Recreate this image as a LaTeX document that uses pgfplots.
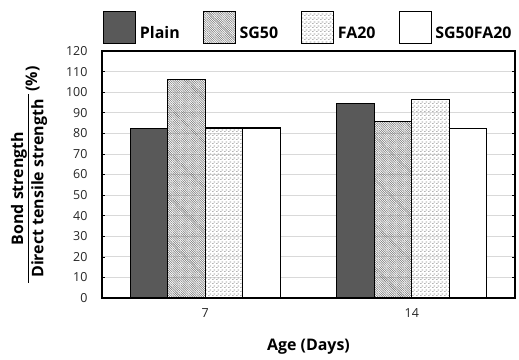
\documentclass[border=0pt]{standalone}
\usepackage{pgfplots}
\pgfplotsset{compat=1.18}
\usepackage{fontspec}
\setmainfont{Open Sans}
\usetikzlibrary{patterns,patterns.meta}
\definecolor{plaingray}{HTML}{595959}
\definecolor{gridgray}{HTML}{D9D9D9}
\pgfdeclarepattern{name=fadash, type=uncolored, bottom left={\pgfpoint{0bp}{0bp}}, top right={\pgfpoint{4bp}{4bp}}, tile size={\pgfpoint{4bp}{4bp}},
 code={\pgfpathrectangle{\pgfpoint{0bp}{0bp}}{\pgfpoint{2bp}{0.9bp}}\pgfpathrectangle{\pgfpoint{2bp}{2bp}}{\pgfpoint{2bp}{0.9bp}}\pgfusepath{fill}}}
\pgfplotstableread{
x Plain SG50 FA20 SGFA
1 82.5 106.2 82.6 82.6
2 94.3 85.9 96.6 82.2
}\datatable
\begin{document}
\begin{tikzpicture}
\useasboundingbox (-102bp,-62bp) rectangle (417bp,298bp);
\begin{axis}[
  at={(0,0)}, anchor=south west,
  scale only axis, width=413bp, height=247bp,
  ybar=0pt, bar width=37.5bp,
  xmin=0.5, xmax=2.5, ymin=0, ymax=120,
  xtick={1,2}, xticklabels={7,14},
  ytick={0,10,...,120},
  major x tick style={draw=none},
  y tick style={black, line width=0.6pt},
  major tick length=3bp,
  tick align=inside,
  ymajorgrids, grid style={gridgray, line width=0.7pt},
  axis line style={black, line width=1.6pt},
  /pgf/number format/assume math mode=true,
  tick label style={font=\fontsize{12.5}{13}\selectfont, color=black!85},
  yticklabel style={xshift=-11bp},
  xticklabel style={yshift=-7bp},
  xlabel={\bfseries Age (Days)},
  xlabel style={font=\fontsize{16}{17}\selectfont, at={(axis description cs:0.5,0)}, yshift=-49bp, anchor=center},
  ylabel={\bfseries\begin{tabular}{@{\hspace{5pt}}c@{\hspace{5pt}}}Bond strength\\[0pt]\hline\rule{0pt}{15pt}Direct tensile strength\end{tabular}\hspace{3pt}\raisebox{-3pt}{(\%)}},
  ylabel style={font=\fontsize{16}{17}\selectfont, at={(axis description cs:-0.175,0.5)}, anchor=center},
  legend columns=4,
  legend style={at={(0,1)}, anchor=south west, yshift=5bp, xshift=-2bp, draw=none, fill=none,
    font=\fontsize{16}{17}\selectfont\bfseries,
    /tikz/every odd column/.style={column sep=3bp},
    /tikz/every even column/.style={column sep=22bp},
    nodes={inner sep=1bp}},
  legend image code/.code={\draw[#1, line width=0.8pt] (0bp,-10bp) rectangle (32bp,22bp);},
  every axis plot/.append style={draw=black, line width=1.1pt},
]
\addplot[fill=plaingray] table[x=x,y=Plain]{\datatable};
\addplot[pattern={Lines[angle=-45,distance=1.6bp,line width=0.55bp]}, pattern color=black!55] table[x=x,y=SG50]{\datatable};
\addplot[pattern=fadash, pattern color=black!45] table[x=x,y=FA20]{\datatable};
\addplot[fill=white] table[x=x,y=SGFA]{\datatable};
\legend{Plain,SG50,FA20,SG50FA20}
\end{axis}
\end{tikzpicture}
\end{document}
